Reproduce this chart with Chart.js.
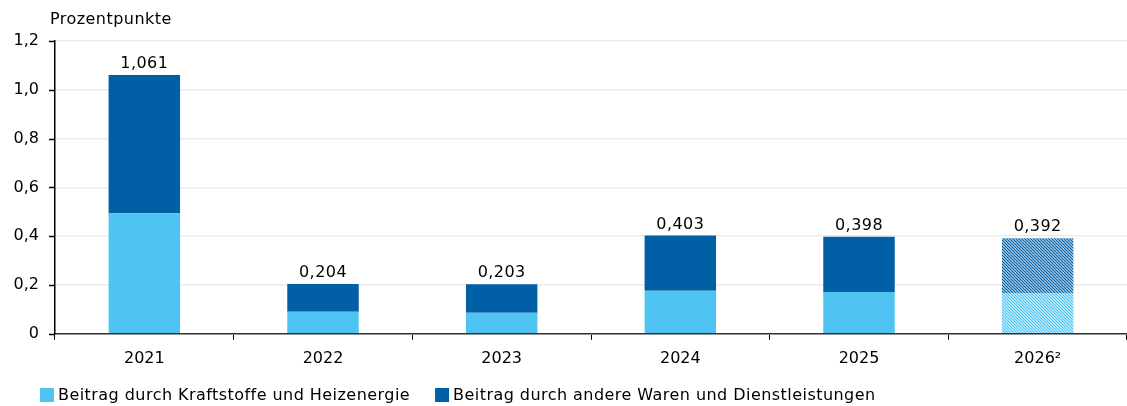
<!DOCTYPE html>
<html>
<head>
<meta charset="utf-8">
<script src="https://cdn.jsdelivr.net/npm/chart.js@4.4.1/dist/chart.umd.min.js"></script>
<style>
html,body{margin:0;padding:0;background:#fff;}
#wrap{width:1127px;height:406px;position:relative;}
</style>
</head>
<body>
<div id="wrap"><canvas id="c" width="1127" height="406"></canvas></div>
<script>
const categories = ['2021', '2022', '2023', '2024', '2025', '2026²'];
const fuelValues = [0.494, 0.090, 0.086, 0.176, 0.171, 0.167];
const otherValues = [0.567, 0.114, 0.117, 0.227, 0.227, 0.225];
const totalLabels = ['1,061', '0,204', '0,203', '0,403', '0,398', '0,392'];
const seriesNames = ['Beitrag durch Kraftstoffe und Heizenergie', 'Beitrag durch andere Waren und Dienstleistungen'];
const yTicks = [0, 0.2, 0.4, 0.6, 0.8, 1.0, 1.2];
const forecastIndex = 5;

const LIGHT = '#4fc3f1';
const DARK = '#005fa5';
const FONT = "'DejaVu Sans', sans-serif";
const FS = 16;
const LS = '0.45px';

const canvas = document.getElementById('c');
const mainCtx = canvas.getContext('2d');
mainCtx.letterSpacing = LS;

function hatch(color) {
  const size = 3;
  const pc = document.createElement('canvas');
  pc.width = size; pc.height = size;
  const g = pc.getContext('2d');
  g.fillStyle = '#ffffff';
  g.fillRect(0, 0, size, size);
  g.strokeStyle = color;
  g.lineWidth = 1.3;
  g.beginPath();
  g.moveTo(-1, -1); g.lineTo(size + 1, size + 1);
  g.moveTo(-1, size - 1); g.lineTo(1, size + 1);
  g.moveTo(size - 1, -1); g.lineTo(size + 1, 1);
  g.stroke();
  return mainCtx.createPattern(pc, 'repeat');
}

const colorsFor = (base) => categories.map((_, i) => i === forecastIndex ? hatch(base) : base);

const labelPlugin = {
  id: 'labels',
  afterDatasetsDraw(chart) {
    const ctx = chart.ctx;
    const meta = chart.getDatasetMeta(1);
    ctx.save();
    ctx.letterSpacing = LS;
    ctx.font = FS + 'px ' + FONT;
    ctx.fillStyle = '#000';
    ctx.textAlign = 'center';
    ctx.textBaseline = 'bottom';
    meta.data.forEach((bar, i) => {
      ctx.fillText(totalLabels[i], bar.x, bar.y - 3);
    });
    ctx.textAlign = 'left';
    ctx.textBaseline = 'alphabetic';
    ctx.fillText('Prozentpunkte', 50, 24);
    // legend
    ctx.textBaseline = 'middle';
    let x = 40;
    const ly = 395;
    seriesNames.forEach((n, i) => {
      ctx.fillStyle = i === 0 ? LIGHT : DARK;
      ctx.fillRect(x, ly - 7, 14, 14);
      ctx.fillStyle = '#000';
      ctx.fillText(n, x + 18, ly + 1);
      x += 18 + ctx.measureText(n).width + 25;
    });
    ctx.restore();
  }
};

new Chart(canvas, {
  type: 'bar',
  data: {
    labels: categories,
    datasets: [
      { label: seriesNames[0], data: fuelValues, backgroundColor: colorsFor(LIGHT), borderWidth: 0, barPercentage: 0.4, categoryPercentage: 1.0 },
      { label: seriesNames[1], data: otherValues, backgroundColor: colorsFor(DARK), borderWidth: 0, barPercentage: 0.4, categoryPercentage: 1.0 }
    ]
  },
  options: {
    responsive: false,
    animation: false,
    devicePixelRatio: 1,
    layout: { padding: { top: 41, right: 0, left: 0, bottom: 29 } },
    plugins: {
      tooltip: { enabled: false },
      legend: { display: false }
    },
    scales: {
      x: {
        stacked: true,
        grid: { display: true, drawOnChartArea: false, drawTicks: true, tickLength: 6, color: '#000', offset: true },
        border: { display: true, color: '#333', width: 1.5 },
        ticks: { font: { family: FONT, size: FS }, color: '#000', padding: 9 }
      },
      y: {
        stacked: true,
        min: 0,
        max: 1.2,
        afterBuildTicks: (axis) => { axis.ticks = yTicks.map(v => ({ value: v })); },
        afterFit: (axis) => { axis.width = 55; },
        grid: { color: '#ebebeb', lineWidth: 1.5, drawTicks: false },
        border: { display: true, color: '#000', width: 1.5 },
        ticks: {
          font: { family: FONT, size: FS }, color: '#000', padding: 16,
          callback: (v) => v === 0 ? '0' : v.toFixed(1).replace('.', ',')
        }
      }
    }
  },
  plugins: [labelPlugin, {
    id: 'ytickmarks',
    afterDraw(chart) {
      const y = chart.scales.y, ctx = chart.ctx;
      ctx.save();
      ctx.strokeStyle = '#000'; ctx.lineWidth = 1.5;
      yTicks.forEach(v => {
        const py = Math.round(y.getPixelForValue(v)) + 0.5;
        ctx.beginPath(); ctx.moveTo(y.right - 6, py); ctx.lineTo(y.right, py); ctx.stroke();
      });
      ctx.restore();
    }
  }]
});
</script>
</body>
</html>
